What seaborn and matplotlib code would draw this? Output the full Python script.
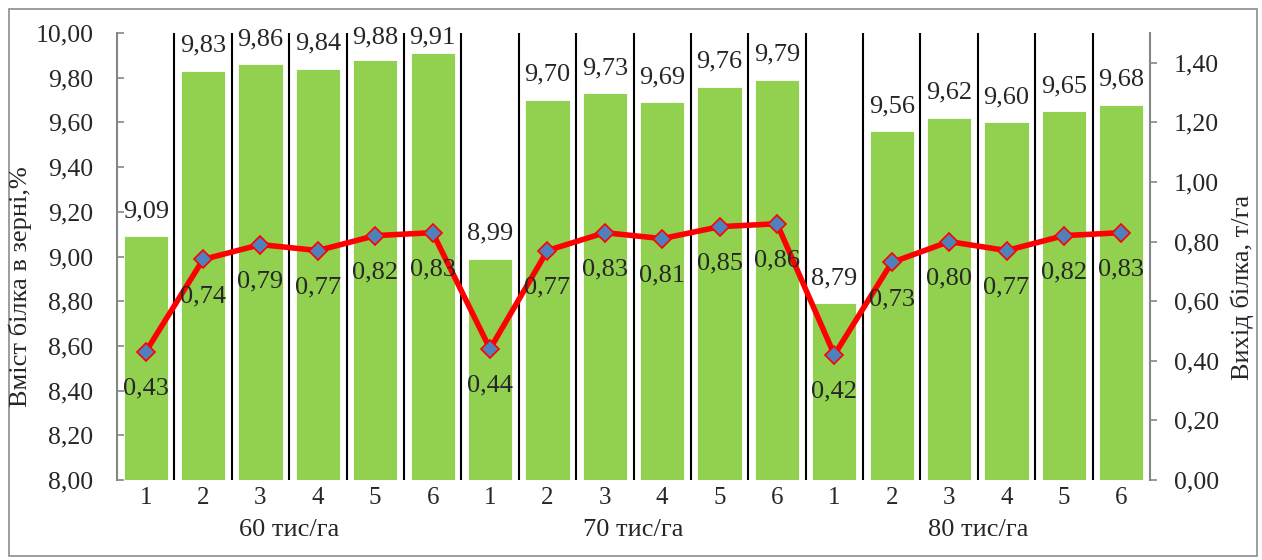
import pandas as pd
import numpy as np
import matplotlib.pyplot as plt
import seaborn as sns
from matplotlib.patches import Rectangle

# дані з рисунка
variants = ['1', '2', '3', '4', '5', '6'] * 3
densities = ['60 тис/га', '70 тис/га', '80 тис/га']
protein_content = [9.09, 9.83, 9.86, 9.84, 9.88, 9.91,
                   8.99, 9.70, 9.73, 9.69, 9.76, 9.79,
                   8.79, 9.56, 9.62, 9.60, 9.65, 9.68]
protein_yield = [0.43, 0.74, 0.79, 0.77, 0.82, 0.83,
                 0.44, 0.77, 0.83, 0.81, 0.85, 0.86,
                 0.42, 0.73, 0.80, 0.77, 0.82, 0.83]

df = pd.DataFrame({'pos': np.arange(len(protein_content)),
                   'content': protein_content,
                   'yield': protein_yield})


def fmt(v):
    return '{:.2f}'.format(v).replace('.', ',')


sns.set_style('white')
plt.rcParams['font.family'] = ['Liberation Serif', 'DejaVu Serif']
grey = '#868686'

fig = plt.figure(figsize=(12.62, 5.6), dpi=100)
ax = fig.add_axes([117 / 1262, 1 - 480 / 560, (1150 - 117) / 1262, (480 - 33) / 560])

# стовпці - вміст білка
sns.barplot(data=df, x='pos', y='content', color='#92D050', width=0.77,
            saturation=1, edgecolor='white', linewidth=0.6, ax=ax)
ax.set_ylim(8, 10)
ax.set_xlim(-0.5, len(df) - 0.5)

# розділові лінії між стовпцями
for x in np.arange(0.5, len(df) - 1, 1):
    ax.plot([x, x], [8, 10], color='white', lw=5, solid_capstyle='butt', zorder=3)
    ax.plot([x, x], [8, 10], color='black', lw=1.5, solid_capstyle='butt', zorder=4)

for p, v in zip(df['pos'], df['content']):
    ax.text(p, min(v + 0.113, 9.982), fmt(v), ha='center', va='center',
            fontsize=19, zorder=5)

ax.set_yticks(np.arange(8, 10.01, 0.2))
ax.set_yticklabels([fmt(v) for v in np.arange(8, 10.01, 0.2)], fontsize=18.5)
ax.tick_params(axis='y', direction='in', length=5, width=1.2, color=grey, pad=17)
ax.set_xticks(df['pos'])
ax.set_xticklabels(variants, fontsize=18)
ax.tick_params(axis='x', length=0, pad=5)
ax.set_xlabel('')
ax.set_ylabel('')
for s in ['top', 'right', 'bottom']:
    ax.spines[s].set_visible(False)
ax.spines['left'].set_color(grey)
ax.spines['left'].set_linewidth(1.5)

# лінія - вихід білка
ax2 = ax.twinx()
sns.lineplot(data=df, x='pos', y='yield', color='red', lw=4, marker='D',
             markersize=9, markerfacecolor='#4F81BD', markeredgecolor='red',
             markeredgewidth=1.2, ax=ax2, zorder=6)
ax2.set_ylim(0, 1.5)
ax2.set_xlim(-0.5, len(df) - 0.5)
for p, v in zip(df['pos'], df['yield']):
    ax2.text(p, v - 0.124, fmt(v), ha='center', va='center', fontsize=19, zorder=7)

ax2.set_yticks(np.arange(0, 1.41, 0.2))
ax2.set_yticklabels([fmt(v) for v in np.arange(0, 1.41, 0.2)], fontsize=18.5)
ax2.tick_params(axis='y', direction='out', length=5, width=1.2, color=grey, pad=12)
ax2.set_ylabel('')
ax2.set_xlabel('')
for s in ['top', 'left', 'bottom']:
    ax2.spines[s].set_visible(False)
ax2.spines['right'].set_color(grey)
ax2.spines['right'].set_linewidth(1.5)

# підписи груп
for i, d in enumerate(densities):
    ax.text(i * 6 + 2.5, -0.112, d, transform=ax.get_xaxis_transform(),
            ha='center', va='center', fontsize=19)

fig.text(20 / 1262, 1 - 287 / 560, 'Вміст білка в зерні,%', rotation=90,
         ha='center', va='center', fontsize=19)
fig.text(1242 / 1262, 1 - 287 / 560, 'Вихід білка, т/га', rotation=90,
         ha='center', va='center', fontsize=19)

fig.patches.append(Rectangle((9 / 1262, 4 / 560), 1248 / 1262, 547 / 560,
                             transform=fig.transFigure, fill=False,
                             edgecolor='#8C8C8C', lw=1.2))

plt.savefig('out.png', dpi=100)
